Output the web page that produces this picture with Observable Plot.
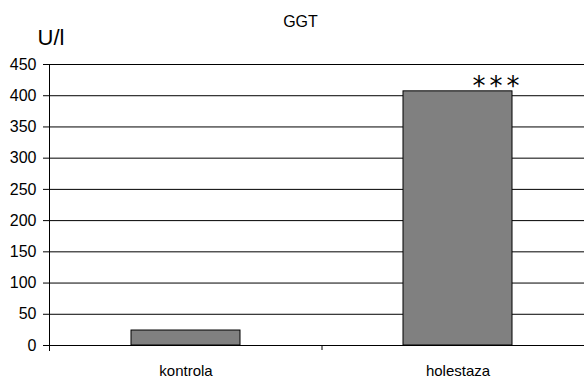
<!DOCTYPE html>
<html>
<head>
<meta charset="utf-8">
<script src="https://cdn.jsdelivr.net/npm/d3@7"></script>
<script src="https://cdn.jsdelivr.net/npm/@observablehq/plot@0.6"></script>
<style>
  html, body { margin: 0; padding: 0; background: #fff; overflow: hidden; }
  svg { overflow: hidden; }
</style>
</head>
<body>
<div id="chart"></div>
<script>
const categories = ["kontrola", "holestaza"];
const values = [24, 407];
const yTicks = [0, 50, 100, 150, 200, 250, 300, 350, 400, 450];
const title = "GGT";
const unit = "U/l";
const significance = ["", "***"];

const data = categories.map((c, i) => ({category: c, value: values[i], sig: significance[i]}));

const W = 584, H = 378, mT = 64, mB = 33, mL = 49, mR = -9;
const plotH = H - mT - mB;
const step = (W - mL - mR) / categories.length;

const chart = Plot.plot({
  width: W,
  height: H,
  marginTop: mT,
  marginBottom: mB,
  marginLeft: mL,
  marginRight: mR,
  style: {fontFamily: "'Liberation Sans', Arial, sans-serif", fontSize: "16px", color: "#000", background: "#fff"},
  x: {domain: categories, paddingInner: 0.6, paddingOuter: 0.3},
  y: {domain: [0, 450]},
  marks: [
    Plot.ruleY(yTicks, {stroke: "#000", strokeWidth: 1, strokeOpacity: 1}),
    Plot.barY(data, {x: "category", y: "value", fill: "#808080", stroke: "#000", strokeWidth: 1}),
    Plot.frame({anchor: "left", stroke: "#000", insetBottom: -5}),
    Plot.ruleX([categories[1]], {x: d => d, dx: -step / 2, stroke: "#000", insetTop: plotH, insetBottom: -5}),
    Plot.axisY({ticks: yTicks, tickSize: 6, tickPadding: 7, fontSize: 16, stroke: "#000", fill: "#000", label: null}),
    Plot.axisX({tickSize: 0, tickPadding: 20, fontSize: 15, fill: "#000", label: null}),
    Plot.text(data.filter(d => d.sig), {x: "category", y: "value", text: "sig", dx: 40, dy: 4, lineAnchor: "bottom", fontSize: 26, fontFamily: "'DejaVu Sans', sans-serif", fill: "#000"}),
    Plot.text([title], {frameAnchor: "top", dx: -21, dy: -48.5, fontSize: 16, fill: "#000"}),
    Plot.text([unit], {frameAnchor: "top-left", textAnchor: "start", dx: -12, dy: -35.5, fontSize: 22, fill: "#000"})
  ]
});
d3.select(chart).selectAll("text")
  .filter(function() { return this.textContent === "***"; })
  .attr("letter-spacing", 4);
document.getElementById("chart").appendChild(chart);
</script>
</body>
</html>
